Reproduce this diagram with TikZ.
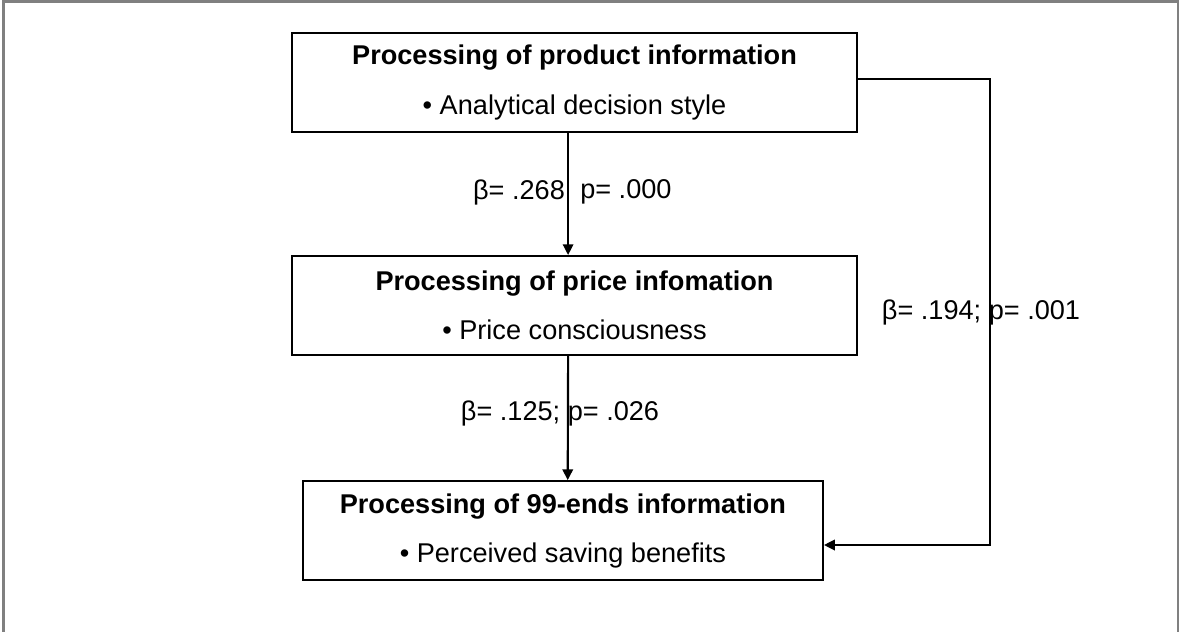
\documentclass[tikz,border=0pt]{standalone}
\usepackage{fontspec}
\setmainfont{Liberation Sans}
\usetikzlibrary{arrows.meta,positioning}
\definecolor{Frame}{HTML}{808080}

\begin{document}
\begin{tikzpicture}[
    node distance=3.05cm,
    box/.style={draw,line width=1.5pt,minimum width=14.125cm,minimum height=2.475cm,
      inner sep=0pt,align=center,font=\fontsize{19.3}{23}\selectfont},
    lbl/.style={inner sep=0pt,font=\fontsize{19.3}{23}\selectfont},
    arr/.style={-{Triangle[length=2.7mm,width=2.6mm]},line width=1.5pt}
  ]
    \useasboundingbox (0,0) rectangle (29.475,-15.8);
    \draw[Frame,line width=1.5pt] (0.0875,-16) |- (29.45,-0.0375) -- (29.45,-16);
    \node[box] (product) at (14.3625,-2.0625)
      {\textbf{Processing of product information}\\[12pt]\textbullet\ Analytical decision style};
    \node[box,below=of product] (price)
      {\textbf{Processing of price infomation}\\[12pt]\textbullet\ Price consciousness};
    \node[box,below=3.1cm of price,xshift=-2.9mm,minimum width=13cm] (ends)
      {\textbf{Processing of 99-ends information}\\[12pt]\textbullet\ Perceived saving benefits};
    \coordinate (turn) at (24.75,-13.625);
    \draw[arr] ([xshift=-1.6mm]product.south) -- ([xshift=-1.6mm]price.north);
    \draw[arr] ([xshift=-1.6mm]price.south) -- ([xshift=1.2mm]ends.north);
    \draw[arr] ([yshift=0.9mm]product.east) -| (turn) -- (turn -| ends.east);
    \node[lbl,anchor=east] (beta1) at (14.13,-4.8) {β= .268};
    \node[lbl,anchor=west] (p1) at (14.5,-4.8) {p= .000};
    \node[lbl] (path2) at (14.0,-10.325) {β= .125; p= .026};
    \node[lbl] (path3) at (24.525,-7.8) {β= .194; p= .001};
  \end{tikzpicture}
\end{document}
